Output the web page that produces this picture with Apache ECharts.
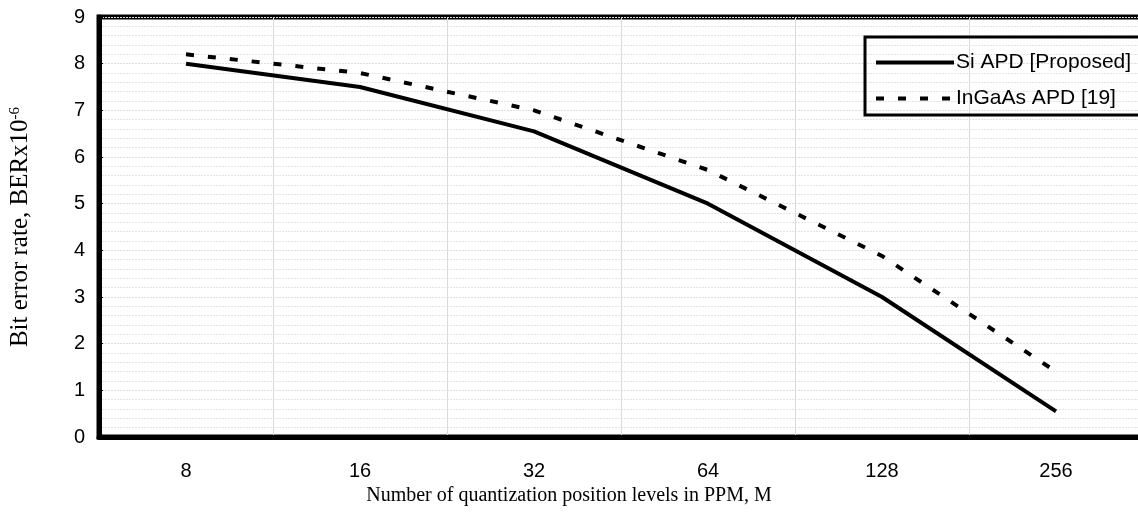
<!DOCTYPE html>
<html>
<head>
<meta charset="utf-8">
<script src="https://cdn.jsdelivr.net/npm/echarts@6/dist/echarts.min.js"></script>
<style>
	html, body { margin: 0; padding: 0; background: #fff; }
	#chart { width: 1138px; height: 532px; }
</style>
</head>
<body>
<div id="chart"></div>
<script>
	// PPM levels (M)
	var levels = ['8', '16', '32', '64', '128', '256'];
	// BER x 1e-6
	var siApd = [8.0, 7.5, 6.55, 5.0, 3.0, 0.55];
	var inGaAsApd = [8.2, 7.8, 7.0, 5.72, 3.88, 1.4];
	var seriesNames = ['Si APD [Proposed]', 'InGaAs APD [19]'];

	var sans = '"Liberation Sans", Arial, sans-serif';
	var serif = '"Liberation Serif", "Times New Roman", serif';

	var chart = echarts.init(document.getElementById('chart'));
	chart.setOption({
		animation: false,
		backgroundColor: '#fff',
		grid: {
			left: 99,
			top: 17,
			width: 1044,
			height: 420,
			outerBoundsMode: 'none',
			show: true,
			borderColor: '#000',
			borderWidth: 5
		},
		legend: {
			orient: 'vertical',
			left: 865,
			top: 37,
			padding: [15, 80, 6, 9],
			itemGap: 15,
			itemWidth: 78,
			itemHeight: 14,
			borderColor: '#000',
			borderWidth: 3,
			itemStyle: { opacity: 0 },
			lineStyle: { width: 4 },
			textStyle: { fontFamily: sans, fontSize: 21, color: '#000', padding: [0, 0, 0, -3] },
			data: seriesNames
		},
		xAxis: {
			type: 'category',
			data: levels,
			boundaryGap: true,
			name: 'Number of quantization position levels in PPM, M',
			nameLocation: 'middle',
			nameGap: 46,
			nameTextStyle: { fontFamily: serif, fontSize: 20, color: '#000', padding: [0, 104, 0, 0] },
			axisLine: { lineStyle: { color: '#000', width: 5 } },
			axisTick: { inside: true, length: 4, lineStyle: { color: '#000' } },
			axisLabel: { fontFamily: sans, fontSize: 20, color: '#000', margin: 24 },
			splitLine: { show: true, lineStyle: { color: '#dadada', width: 1 } }
		},
		yAxis: {
			type: 'value',
			min: 0,
			max: 9,
			interval: 1,
			name: 'Bit error rate, BERx10{sup|-6}',
			nameLocation: 'middle',
			nameGap: 66,
			nameTextStyle: {
				fontFamily: serif, fontSize: 25, color: '#000',
				rich: {
					sup: { fontFamily: serif, fontSize: 15, color: '#000', verticalAlign: 'top', padding: [0, 0, 10, 0] }
				}
			},
			axisLine: { show: true, lineStyle: { color: '#000', width: 5 } },
			axisTick: { show: true, inside: true, length: 4, lineStyle: { color: '#000' } },
			minorTick: { show: true, splitNumber: 5, length: 3, lineStyle: { color: '#000' } },
			axisLabel: { fontFamily: sans, fontSize: 20, color: '#000', margin: 14 },
			splitLine: { show: true, lineStyle: { color: '#dedede', width: 1, type: [2, 1] } },
			minorSplitLine: { show: true, lineStyle: { color: '#e4e4e4', width: 1, type: [2, 1] } }
		},
		series: [
			{
				name: seriesNames[0],
				type: 'line',
				data: siApd,
				symbol: 'none',
				itemStyle: { color: '#000' },
				lineStyle: { color: '#000', width: 4 }
			},
			{
				name: seriesNames[1],
				type: 'line',
				data: inGaAsApd,
				symbol: 'none',
				itemStyle: { color: '#000' },
				lineStyle: { color: '#000', width: 4, type: [8, 14] }
			}
		]
	});
</script>
</body>
</html>
